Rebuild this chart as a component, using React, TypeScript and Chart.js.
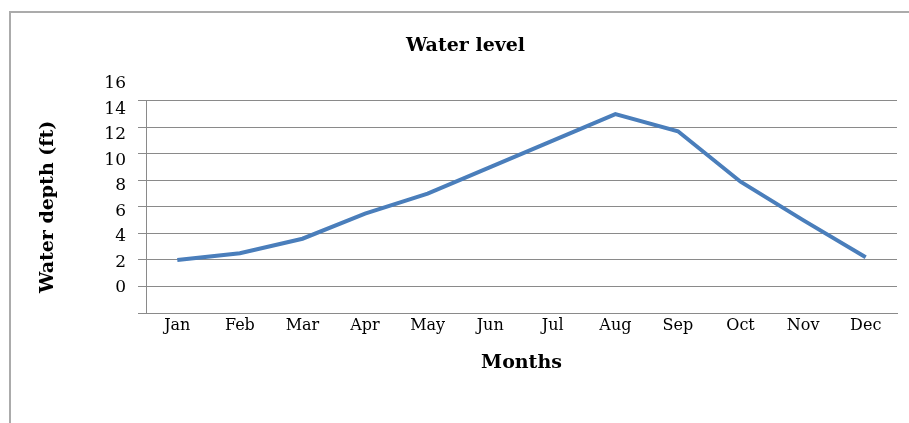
import React, { useEffect, useRef } from "react";
import { Chart, registerables } from "chart.js";

Chart.register(...registerables);

const months = ["Jan", "Feb", "Mar", "Apr", "May", "Jun", "Jul", "Aug", "Sep", "Oct", "Nov", "Dec"];
const depth = [2.0, 2.5, 3.6, 5.5, 7.0, 9.0, 11.0, 13.0, 11.7, 7.9, 5.0, 2.2];
const yTickLabels = [0, 2, 4, 6, 8, 10, 12, 14, 16];

const chartTitle = "Water level";
const xTitle = "Months";
const yTitle = "Water depth (ft)";

const FONT = "'DejaVu Serif', 'Liberation Serif', serif";
const GRID = "#8a8a8a";

export default function App() {
  const ref = useRef<HTMLCanvasElement | null>(null);

  useEffect(() => {
    if (!ref.current) return;
    const chart = new Chart(ref.current, {
      type: "line",
      data: {
        labels: months,
        datasets: [
          {
            label: "Water depth",
            data: depth,
            borderColor: "#4a7ebb",
            backgroundColor: "#4a7ebb",
            borderWidth: 4,
            pointRadius: 0,
            tension: 0,
            yAxisID: "y",
          },
        ],
      },
      options: {
        responsive: false,
        animation: false,
        layout: { padding: { left: 34, right: 12, top: 0, bottom: 0 } },
        plugins: {
          legend: { display: false },
          tooltip: { enabled: false },
          title: {
            display: true,
            text: chartTitle,
            color: "#000",
            font: { family: FONT, size: 19, weight: "bold" },
            padding: { top: 35, bottom: 43 },
          },
        },
        scales: {
          x: {
            type: "category",
            offset: true,
            grid: { display: false, drawTicks: false },
            border: { display: true, color: GRID, width: 1 },
            ticks: {
              color: "#000",
              font: { family: FONT, size: 16 },
              padding: 3,
              maxRotation: 0,
              autoSkip: false,
            },
            title: {
              display: true,
              text: xTitle,
              color: "#000",
              font: { family: FONT, size: 19, weight: "bold" },
              padding: { top: 0, bottom: 49 },
            },
            afterFit: (s: any) => {
              s.height = 110;
            },
          },
          y: {
            type: "linear",
            position: "left",
            weight: 0,
            min: -2,
            max: 14,
            ticks: { display: false, stepSize: 2 },
            grid: { color: GRID, lineWidth: 1, drawTicks: true, tickLength: 8 },
            border: { display: true, color: GRID, width: 1 },
            afterFit: (s: any) => {
              s.width = 8;
            },
          },
          y2: {
            type: "linear",
            position: "left",
            weight: 1,
            min: -1.97,
            max: 14.66,
            grid: { display: false, drawTicks: false },
            border: { display: false },
            ticks: {
              color: "#000",
              font: { family: FONT, size: 17 },
              padding: 12,
              autoSkip: false,
            },
            afterBuildTicks: (s: any) => {
              s.ticks = yTickLabels.map((v) => ({ value: v }));
            },
            title: {
              display: true,
              text: yTitle,
              color: "#000",
              font: { family: FONT, size: 19, weight: "bold" },
              padding: { top: 3, bottom: 0 },
            },
            afterFit: (s: any) => {
              s.width = 104;
            },
          },
        },
      },
    });
    return () => chart.destroy();
  }, []);

  return (
    <div
      style={{
        position: "fixed",
        left: 0,
        top: 0,
        width: 909,
        height: 423,
        overflow: "hidden",
        background: "#fff",
      }}
    >
      <div
        style={{
          position: "absolute",
          left: 9,
          top: 11,
          width: 1000,
          height: 1000,
          borderLeft: "2px solid #ababab",
          borderTop: "2px solid #ababab",
        }}
      />
      <canvas
        ref={ref}
        width={909}
        height={423}
        style={{ position: "absolute", left: 0, top: 0, display: "block" }}
      />
    </div>
  );
}
